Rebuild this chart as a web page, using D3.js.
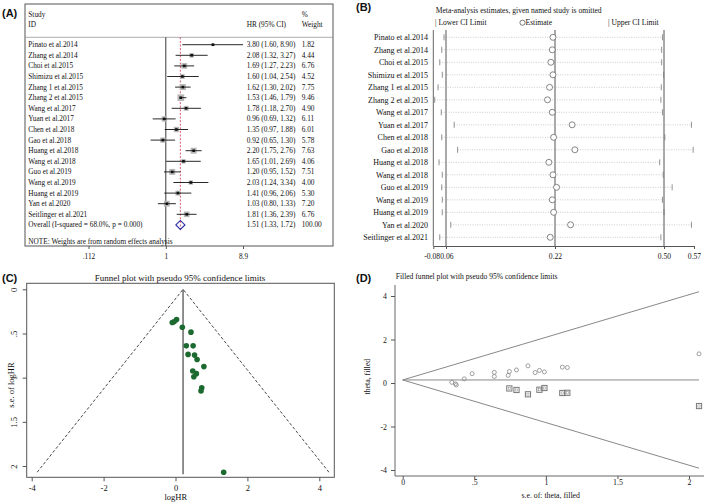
<!DOCTYPE html>
<html><head><meta charset="utf-8">
<script src="https://cdn.jsdelivr.net/npm/d3@7"></script>
<style>
body{margin:0;background:#fff}
svg text{font-family:"Liberation Serif","Times New Roman",serif;fill:#111}
svg text.pl{font-family:"Liberation Sans",Arial,sans-serif;font-weight:bold;font-size:11px}
</style>
</head><body>
<svg id="c" width="709" height="504"></svg>
<script>
// ---------- data ----------
const studies = ["Pinato et al.2014","Zhang et al.2014","Choi et al.2015","Shimizu et al.2015","Zhang 1 et al.2015","Zhang 2 et al.2015","Wang et al.2017","Yuan et al.2017","Chen et al.2018","Gao et al.2018","Huang et al.2018","Wang et al.2018","Guo et al.2019","Wang et al.2019","Huang et al.2019","Yan et al.2020","Seitlinger et al.2021"];
const hr     = [3.80,2.08,1.69,1.60,1.62,1.53,1.78,0.96,1.35,0.92,2.20,1.65,1.20,2.03,1.41,1.03,1.81];
const hrLow  = [1.60,1.32,1.27,1.04,1.30,1.46,1.18,0.69,0.97,0.65,1.75,1.01,0.95,1.24,0.96,0.80,1.36];
const hrHigh = [8.90,3.27,2.23,2.54,2.02,1.79,2.70,1.32,1.88,1.30,2.76,2.69,1.52,3.34,2.06,1.33,2.39];
const weights= [1.82,4.44,6.76,4.52,7.75,9.46,4.90,6.11,6.01,5.78,7.63,4.06,7.51,4.00,5.30,7.20,6.76];
const overallHR = [1.51,1.33,1.72];
const overallWeight = 100.00;
const overallLabel = "Overall  (I-squared = 68.0%, p = 0.000)";
const hrTicks = [0.112,1,8.9];
const hrTickLabels = [".112","1","8.9"];

// Panel B: leave-one-out estimates
const looLow = [0.038,0.013,-0.009,0.019,-0.028,-0.065,0.008,0.072,0.013,0.077,-0.017,0.019,0.013,0.019,0.019,0.067,-0.009];
const looEst = [0.217,0.216,0.214,0.217,0.212,0.209,0.216,0.264,0.218,0.271,0.211,0.217,0.224,0.216,0.218,0.260,0.213];
const looHigh= [0.496,0.494,0.494,0.499,0.493,0.492,0.496,0.564,0.502,0.568,0.489,0.498,0.519,0.496,0.500,0.564,0.492];
const looTicks = [-0.08,0.06,0.22,0.50,0.57];
const looTickLabels = ["-0.08","0.06","0.22","0.50","0.57"];
const looRefLines = [0.06,0.22,0.50];

// Panel C / D: funnel
const funnelSE    = [0.343,0.368,0.375,0.43,0.485,0.64,0.64,0.737,0.745,0.795,0.875,0.925,0.955,0.99,1.115,1.15,2.07];
const funnelLogHR = [0.03,-0.04,-0.09,0.19,0.43,0.30,0.49,0.35,0.53,0.60,0.79,0.48,0.58,0.51,0.73,0.71,1.34];
const filledSE    = [0.745,0.795,0.875,0.955,0.99,1.115,1.15,2.07];
const filledTheta = [-0.25,-0.32,-0.52,-0.31,-0.23,-0.46,-0.45,-1.06];
const funnelCenterC = 0.21, funnelCenterD = 0.14, seMax = 2.07;
const cTicksX = [-4,-2,0,2,4], cTicksY = [0,0.5,1,1.5,2], cTickLabelsY = ["0",".5","1","1.5","2"];
const dTicksX = [0,0.5,1,1.5,2], dTickLabelsX = ["0",".5","1","1.5","2"], dTicksY = [-4,-2,0,2,4];

const svg = d3.select("#c");
svg.append("rect").attr("width",709).attr("height",504).attr("fill","#fff");

// ================= Panel A =================
(function(){
  const g = svg.append("g");
  const L=25, R=333, T=4, B=246;
  g.append("text").attr("class","pl").attr("x",2).attr("y",17).text("(A)");
  g.append("rect").attr("x",L).attr("y",T).attr("width",R-L).attr("height",B-T)
    .attr("fill","none").attr("stroke","#555").attr("stroke-width",1);
  g.append("line").attr("x1",L).attr("x2",R).attr("y1",37.3).attr("y2",37.3).attr("stroke","#888").attr("stroke-width",0.7);
  const fs = 7.3;
  const hdr = (x,y,t)=>g.append("text").attr("x",x).attr("y",y).attr("dy","0.35em").attr("font-size",fs).text(t);
  hdr(28.3,14,"Study"); hdr(28.3,24.7,"ID"); hdr(246.7,24.7,"HR (95% CI)"); hdr(301.7,14,"%"); hdr(301.7,24.7,"Weight");

  const x = d3.scaleLog().domain([0.112,8.9]).range([88.5,243]);
  const y = d3.scalePoint().domain(studies.concat(["Overall"])).range([44.7,224.9]);
  const side = d3.scaleSqrt().domain([0,9.46]).range([0,6.7]);

  g.append("line").attr("x1",x(1)).attr("x2",x(1)).attr("y1",37.3).attr("y2",B).attr("stroke","#222").attr("stroke-width",0.9);
  g.append("line").attr("x1",x(overallHR[0])).attr("x2",x(overallHR[0])).attr("y1",37.3).attr("y2",231)
    .attr("stroke","#d0304a").attr("stroke-width",0.8).attr("stroke-dasharray","2,1.6");

  const ax = d3.axisBottom(x).tickValues(hrTicks).tickFormat((d,i)=>hrTickLabels[i]).tickSize(3);
  const axg = g.append("g").attr("transform",`translate(0,${B})`).call(ax);
  axg.select(".domain").remove();
  axg.selectAll("line").attr("stroke","#555");
  axg.selectAll("text").attr("font-size",fs).attr("font-family","Liberation Serif").attr("dy","0.9em");

  const defs = svg.append("defs");
  defs.append("marker").attr("id","arr").attr("viewBox","0 0 10 10").attr("refX",9).attr("refY",5)
    .attr("markerWidth",6).attr("markerHeight",6).attr("orient","auto")
    .append("path").attr("d","M0,0 L10,5 L0,10").attr("fill","none").attr("stroke","#111").attr("stroke-width",1.4);

  studies.forEach((s,i)=>{
    const yy = y(s);
    g.append("text").attr("x",28.3).attr("y",yy).attr("dy","0.35em").attr("font-size",fs).text(s);
    const sd = side(weights[i]);
    g.append("rect").attr("x",x(hr[i])-sd/2).attr("y",yy-sd/2).attr("width",sd).attr("height",sd).attr("fill","#b8b8b8");
    const hi = Math.min(hrHigh[i],8.9);
    const ln = g.append("line").attr("x1",x(hrLow[i])).attr("x2",x(hi)-(hrHigh[i]>8.9?0.5:0)).attr("y1",yy).attr("y2",yy)
      .attr("stroke","#111").attr("stroke-width",0.9);
    if(hrHigh[i]>8.9) ln.attr("marker-end","url(#arr)");
    g.append("rect").attr("x",x(hr[i])-1.3).attr("y",yy-1.3).attr("width",2.6).attr("height",2.6).attr("fill","#111");
    const txt = `${hr[i].toFixed(2)} (${hrLow[i].toFixed(2)}, ${hrHigh[i].toFixed(2)})`;
    g.append("text").attr("x",246.7).attr("y",yy).attr("dy","0.35em").attr("font-size",fs).text(txt);
    g.append("text").attr("x",301.7).attr("y",yy).attr("dy","0.35em").attr("font-size",fs).text(weights[i].toFixed(2));
  });
  const yo = y("Overall");
  g.append("text").attr("x",28.3).attr("y",yo).attr("dy","0.35em").attr("font-size",fs).text(overallLabel);
  const xo=x(overallHR[0]), xl=x(overallHR[1]), xh=x(overallHR[2]);
  g.append("path").attr("d",`M${xl},${yo} L${xo},${yo-4.5} L${xh},${yo} L${xo},${yo+4.5} Z`)
    .attr("fill","none").attr("stroke","#2a2aa8").attr("stroke-width",1.1);
  g.append("text").attr("x",246.7).attr("y",yo).attr("dy","0.35em").attr("font-size",fs)
    .text(`${overallHR[0].toFixed(2)} (${overallHR[1].toFixed(2)}, ${overallHR[2].toFixed(2)})`);
  g.append("text").attr("x",301.7).attr("y",yo).attr("dy","0.35em").attr("font-size",fs).text(overallWeight.toFixed(2));
  g.append("text").attr("x",28.3).attr("y",241).attr("dy","0.35em").attr("font-size",fs).text("NOTE: Weights are from random effects analysis");
})();

// ================= Panel B =================
(function(){
  const g = svg.append("g");
  g.append("text").attr("class","pl").attr("x",356).attr("y",11).text("(B)");
  const fs=7.6;
  g.append("text").attr("x",435.7).attr("y",10.7).attr("dy","0.35em").attr("font-size",fs).text("Meta-analysis estimates, given named study is omitted");
  g.append("text").attr("x",435).attr("y",22.7).attr("dy","0.35em").attr("font-size",fs).text("| Lower CI Limit");
  g.append("circle").attr("cx",522.5).attr("cy",22.7).attr("r",2.6).attr("fill","none").attr("stroke","#444").attr("stroke-width",0.7);
  g.append("text").attr("x",525.5).attr("y",22.7).attr("dy","0.35em").attr("font-size",fs).text("Estimate");
  g.append("text").attr("x",608).attr("y",22.7).attr("dy","0.35em").attr("font-size",fs).text("| Upper CI Limit");

  const x = d3.scaleLinear().domain(looTicks).range([433.3,446,555,664,694]);
  const y = d3.scalePoint().domain(studies).range([37.3,237.3]);
  const T=30, B=246;
  g.append("line").attr("x1",x(looTicks[0])).attr("x2",x(looTicks[0])).attr("y1",T).attr("y2",B).attr("stroke","#555").attr("stroke-width",0.9);
  looRefLines.forEach(v=>{
    g.append("line").attr("x1",x(v)).attr("x2",x(v)).attr("y1",T).attr("y2",B).attr("stroke","#555").attr("stroke-width",1);
  });
  const ax = d3.axisBottom(x).tickValues(looTicks).tickFormat((d,i)=>looTickLabels[i]).tickSize(3).tickSizeOuter(0);
  const axg = g.append("g").attr("transform",`translate(0,${B})`).call(ax);
  axg.select(".domain").attr("stroke","#555");
  axg.selectAll("line").attr("stroke","#555");
  axg.selectAll("text").attr("font-size",fs).attr("font-family","Liberation Serif").attr("dy","0.95em");
  // the first two labels sit side by side (as in the original "-0.080.06")
  axg.selectAll(".tick text").each(function(d,i){
    if(i===0) d3.select(this).attr("text-anchor","end").attr("x",6.3);
    if(i===1) d3.select(this).attr("text-anchor","start").attr("x",-6.2);
  });

  studies.forEach((s,i)=>{
    const yy=y(s);
    g.append("text").attr("x",428).attr("y",yy).attr("dy","0.35em").attr("font-size",8).attr("text-anchor","end").text(s);
    g.append("line").attr("x1",x(looLow[i])).attr("x2",x(looHigh[i])).attr("y1",yy).attr("y2",yy)
      .attr("stroke","#aaa").attr("stroke-width",0.6).attr("stroke-dasharray","1,1.4");
    [looLow[i],looHigh[i]].forEach(v=>{
      g.append("line").attr("x1",x(v)).attr("x2",x(v)).attr("y1",yy-3).attr("y2",yy+3).attr("stroke","#777").attr("stroke-width",0.8);
    });
    g.append("circle").attr("cx",x(looEst[i])).attr("cy",yy).attr("r",3).attr("fill","#fff").attr("stroke","#555").attr("stroke-width",0.7);
  });
})();

// ================= Panel C =================
(function(){
  const g = svg.append("g");
  g.append("text").attr("class","pl").attr("x",2).attr("y",282).text("(C)");
  g.append("text").attr("x",180).attr("y",277.5).attr("dy","0.35em").attr("font-size",9).attr("text-anchor","middle").text("Funnel plot with pseudo 95% confidence limits");
  const L=26.7,R=334.3,T=283.3,B=477.3;
  g.append("rect").attr("x",L).attr("y",T).attr("width",R-L).attr("height",B-T).attr("fill","none").attr("stroke","#555").attr("stroke-width",1);
  const x = d3.scaleLinear().domain([-4,4]).range([31.7,319.3]);
  const y = d3.scaleLinear().domain([0,2]).range([289.3,466]);
  const ax = d3.axisBottom(x).tickValues(cTicksX).tickSize(4).tickSizeOuter(0);
  const axg = g.append("g").attr("transform",`translate(0,${B})`).call(ax);
  axg.select(".domain").remove();
  axg.selectAll("line").attr("stroke","#555");
  axg.selectAll("text").attr("font-size",8.5).attr("font-family","Liberation Serif").attr("dy","0.8em").text((d)=>d<0?"-"+Math.abs(d):d);
  const ay = d3.axisLeft(y).tickValues(cTicksY).tickFormat((d,i)=>cTickLabelsY[i]).tickSize(4).tickSizeOuter(0);
  const ayg = g.append("g").attr("transform",`translate(${L},0)`).call(ay);
  ayg.select(".domain").remove();
  ayg.selectAll("line").attr("stroke","#555");
  ayg.selectAll("text").attr("font-size",8.5).attr("font-family","Liberation Serif")
    .attr("text-anchor","middle").attr("dy",0).attr("x",0)
    .attr("transform","translate(-9.5,0) rotate(-90)");
  g.append("text").attr("transform","translate(11,385) rotate(-90)").attr("dy","0.35em").attr("font-size",8.5).attr("text-anchor","middle").text("s.e. of logHR");
  g.append("text").attr("x",175.8).attr("y",497.5).attr("dy","0.35em").attr("font-size",8.5).attr("text-anchor","middle").text("logHR");

  const lo = funnelCenterC-1.96*seMax, hi = funnelCenterC+1.96*seMax;
  g.append("path").attr("d",`M${x(lo)},${y(seMax)} L${x(funnelCenterC)},${y(0)} L${x(hi)},${y(seMax)}`)
    .attr("fill","none").attr("stroke","#333").attr("stroke-width",0.9).attr("stroke-dasharray","3,2");
  g.append("line").attr("x1",x(funnelCenterC)).attr("x2",x(funnelCenterC)).attr("y1",y(0)).attr("y2",y(seMax)+2)
    .attr("stroke","#555").attr("stroke-width",1.3);
  funnelSE.forEach((s,i)=>{
    g.append("circle").attr("cx",x(funnelLogHR[i])).attr("cy",y(s)).attr("r",2.8).attr("fill","#1d6a30");
  });
})();

// ================= Panel D =================
(function(){
  const g = svg.append("g");
  g.append("text").attr("class","pl").attr("x",356).attr("y",282).text("(D)");
  g.append("text").attr("x",395.7).attr("y",276).attr("dy","0.35em").attr("font-size",7.6).text("Filled funnel plot with pseudo 95% confidence limits");
  const L=395, B=476;
  const x = d3.scaleLinear().domain([0,2]).range([402.7,689]);
  const y = d3.scaleLinear().domain([-4,4]).range([470,296]);
  g.append("line").attr("x1",L).attr("x2",L).attr("y1",285).attr("y2",B).attr("stroke","#555").attr("stroke-width",0.9);
  g.append("line").attr("x1",L).attr("x2",704).attr("y1",B).attr("y2",B).attr("stroke","#555").attr("stroke-width",0.9);
  const ax = d3.axisBottom(x).tickValues(dTicksX).tickFormat((d,i)=>dTickLabelsX[i]).tickSize(3).tickSizeOuter(0);
  const axg = g.append("g").attr("transform",`translate(0,${B})`).call(ax);
  axg.select(".domain").remove();
  axg.selectAll("line").attr("stroke","#555");
  axg.selectAll("text").attr("font-size",7.8).attr("font-family","Liberation Serif").attr("y",4).attr("dy","0.7em");
  const ay = d3.axisLeft(y).tickValues(dTicksY).tickFormat(d=>d<0?"-"+Math.abs(d):d).tickSize(4).tickSizeOuter(0);
  const ayg = g.append("g").attr("transform",`translate(${L},0)`).call(ay);
  ayg.select(".domain").remove();
  ayg.selectAll("line").attr("stroke","#555");
  ayg.selectAll("text").attr("font-size",7.8).attr("font-family","Liberation Serif").attr("x",-8);
  g.append("text").attr("transform","translate(367.3,376.7) rotate(-90)").attr("dy","0.35em").attr("font-size",7.8).attr("text-anchor","middle").text("theta, filled");
  g.append("text").attr("x",550.7).attr("y",495.5).attr("dy","0.35em").attr("font-size",7.8).attr("text-anchor","middle").text("s.e. of: theta, filled");

  const c = funnelCenterD;
  g.append("path").attr("d",`M${x(seMax)},${y(c+1.96*seMax)} L${x(0)},${y(c)} L${x(seMax)},${y(c-1.96*seMax)}`)
    .attr("fill","none").attr("stroke","#888").attr("stroke-width",1);
  g.append("line").attr("x1",x(0)).attr("x2",x(seMax)).attr("y1",y(c)).attr("y2",y(c)).attr("stroke","#888").attr("stroke-width",1);
  funnelSE.forEach((s,i)=>{
    g.append("circle").attr("cx",x(s)).attr("cy",y(funnelLogHR[i])).attr("r",2).attr("fill","none").attr("stroke","#888").attr("stroke-width",0.8);
  });
  filledSE.forEach((s,i)=>{
    g.append("rect").attr("x",x(s)-2.6).attr("y",y(filledTheta[i])-2.6).attr("width",5.2).attr("height",5.2)
      .attr("fill","none").attr("stroke","#777").attr("stroke-width",1);
    g.append("rect").attr("x",x(s)-1.1).attr("y",y(filledTheta[i])-1.1).attr("width",2.2).attr("height",2.2)
      .attr("fill","none").attr("stroke","#999").attr("stroke-width",0.6);
  });
})();
</script>
</body></html>
